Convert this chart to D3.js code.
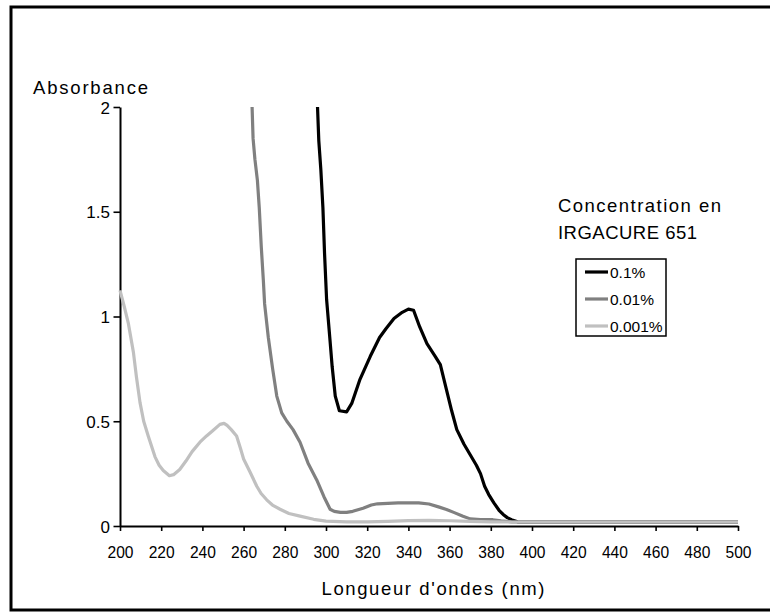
<!DOCTYPE html>
<html>
<head>
<meta charset="utf-8">
<script src="https://cdn.jsdelivr.net/npm/d3@7"></script>
<style>
  body { margin: 0; background: #fff; }
  text { font-family: "Liberation Sans", Arial, sans-serif; fill: #000; }
</style>
</head>
<body>
<svg id="chart" width="770" height="612"></svg>
<script>
// ── data ─────────────────────────────────────────────────
const xTicks = [200, 220, 240, 260, 280, 300, 320, 340, 360, 380, 400, 420, 440, 460, 480, 500];
const yTicks = [0, 0.5, 1, 1.5, 2];
const yTickLabels = ["0", "0.5", "1", "1.5", "2"];

const seriesNames = ["0.1%", "0.01%", "0.001%"];
const seriesColors = ["#000000", "#808080", "#c0c0c0"];

// 0.1 %
const nm1 = [295.5, 296.5, 297.5, 298.5, 299.3, 300.3, 302, 303, 304.5, 306.5, 310, 312.5, 316.5, 321.5, 326, 329, 333, 337, 340, 342.5, 345.5, 349, 353, 355.5, 358.5, 361, 363.5, 367, 370, 373, 375, 377, 379, 381.5, 384, 386, 388, 390, 393, 400, 420, 440, 460, 480, 500];
const abs1 = [2.1, 1.84, 1.70, 1.52, 1.30, 1.08, 0.88, 0.76, 0.62, 0.55, 0.545, 0.585, 0.70, 0.81, 0.90, 0.94, 0.99, 1.02, 1.035, 1.03, 0.95, 0.87, 0.81, 0.77, 0.65, 0.55, 0.46, 0.39, 0.34, 0.29, 0.25, 0.19, 0.15, 0.11, 0.075, 0.055, 0.04, 0.03, 0.02, 0.019, 0.019, 0.019, 0.019, 0.019, 0.019];

// 0.01 %
const nm2 = [263.8, 264.6, 265.5, 266.7, 267.6, 268.6, 269.6, 270.2, 272, 274.1, 276.1, 278.5, 281, 284, 287.4, 291.3, 295.5, 299, 302, 304, 307, 310, 313, 318, 322, 325, 335, 345, 350, 355, 358.5, 362, 366.5, 370, 375, 381, 385, 390, 400, 420, 440, 460, 480, 500];
const abs2 = [2.1, 1.85, 1.75, 1.65, 1.52, 1.33, 1.17, 1.06, 0.90, 0.75, 0.62, 0.54, 0.50, 0.46, 0.40, 0.30, 0.22, 0.14, 0.08, 0.07, 0.065, 0.065, 0.07, 0.085, 0.10, 0.106, 0.11, 0.11, 0.105, 0.09, 0.079, 0.065, 0.047, 0.034, 0.03, 0.03, 0.025, 0.02, 0.019, 0.019, 0.019, 0.019, 0.019, 0.019];

// 0.001 %
const nm3 = [200, 202, 204, 206.5, 208, 209.7, 211.5, 213.7, 217, 219, 221, 224, 226, 229, 232, 235, 238.8, 242, 245, 248.5, 250.5, 252, 254, 256.6, 258.5, 260, 263, 266.4, 268.5, 271.2, 274, 277.7, 282, 287.4, 294, 300, 310, 320, 330, 340, 350, 360, 370, 380, 390, 400, 420, 440, 460, 480, 500];
const abs3 = [1.125, 1.05, 0.97, 0.83, 0.71, 0.59, 0.50, 0.43, 0.33, 0.29, 0.265, 0.24, 0.245, 0.27, 0.31, 0.355, 0.40, 0.43, 0.455, 0.485, 0.49, 0.48, 0.46, 0.43, 0.37, 0.32, 0.26, 0.19, 0.155, 0.125, 0.10, 0.08, 0.06, 0.047, 0.032, 0.023, 0.02, 0.02, 0.022, 0.026, 0.027, 0.025, 0.022, 0.02, 0.019, 0.019, 0.019, 0.019, 0.019, 0.019, 0.019];

const series = [[nm1, abs1], [nm2, abs2], [nm3, abs3]];

// ── layout ───────────────────────────────────────────────
const svg = d3.select("#chart");
const x = d3.scaleLinear().domain([200, 500]).range([120, 738]);
const y = d3.scaleLinear().domain([0, 2]).range([526, 107]);

// cadre
svg.append("rect")
  .attr("x", 11).attr("y", 7).attr("width", 770).attr("height", 603)
  .attr("fill", "none").attr("stroke", "#000").attr("stroke-width", 3);

// zone de tracé (coupe au-dessus de 2)
svg.append("clipPath").attr("id", "plot")
  .append("rect").attr("x", 100).attr("y", y(2)).attr("width", 660).attr("height", y(0) - y(2) + 20);

// axes
const yAxis = svg.append("g").attr("transform", "translate(120,0)")
  .call(d3.axisLeft(y).tickValues(yTicks).tickSize(6.5).tickSizeOuter(0)
    .tickFormat((d, i) => yTickLabels[i]));
const xAxis = svg.append("g").attr("transform", "translate(0,526)")
  .call(d3.axisBottom(x).tickValues(xTicks).tickSize(5).tickSizeOuter(0).tickFormat(d3.format("d")));

[yAxis, xAxis].forEach(a => {
  a.select(".domain").attr("stroke", "#000").attr("stroke-width", 2);
  a.selectAll(".tick line").attr("stroke", "#000").attr("stroke-width", 1.6);
  a.selectAll("text").attr("font-family", null).attr("fill", "#000");
});
yAxis.selectAll("text").attr("font-size", 17).attr("x", -10).attr("dy", "0.36em");
xAxis.selectAll("text").attr("font-size", 17).attr("y", 20).attr("dy", "0.71em")
  .attr("textLength", 26).attr("lengthAdjust", "spacingAndGlyphs");

// courbes
const line = d3.line().x(d => x(d[0])).y(d => y(d[1]));
const g = svg.append("g").attr("clip-path", "url(#plot)");
series.forEach(([nm, ab], i) => {
  g.append("path")
    .datum(nm.map((v, k) => [v, ab[k]]))
    .attr("d", line)
    .attr("fill", "none")
    .attr("stroke", seriesColors[i])
    .attr("stroke-width", 3.2)
    .attr("stroke-linejoin", "round");
});

// titres
svg.append("text").attr("x", 33).attr("y", 93.5).attr("font-size", 18.5)
  .attr("textLength", 115).text("Absorbance");
svg.append("text").attr("x", 433).attr("y", 595).attr("font-size", 18.5)
  .attr("text-anchor", "middle").attr("textLength", 223).text("Longueur d'ondes (nm)");

// légende
svg.append("text").attr("x", 558).attr("y", 211.5).attr("font-size", 18.5)
  .attr("textLength", 163).text("Concentration en");
svg.append("text").attr("x", 558).attr("y", 239).attr("font-size", 18.5)
  .attr("textLength", 139).text("IRGACURE 651");

svg.append("rect").attr("x", 576).attr("y", 259).attr("width", 90).attr("height", 77)
  .attr("fill", "#fff").attr("stroke", "#000").attr("stroke-width", 1.5);

const legend = svg.append("g").selectAll("g").data(seriesNames).join("g")
  .attr("transform", (d, i) => `translate(0,${272 + i * 27})`);
legend.append("line").attr("x1", 585).attr("x2", 608)
  .attr("stroke", (d, i) => seriesColors[i]).attr("stroke-width", 3.2);
legend.append("text").attr("x", 610).attr("y", 5.5).attr("font-size", 15.5).text(d => d);
</script>
</body>
</html>
